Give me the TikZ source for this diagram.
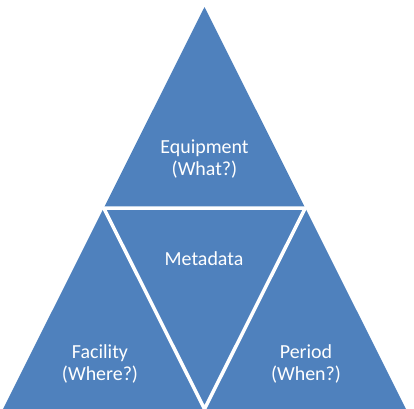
\documentclass[tikz,border=0pt]{standalone}
\usepackage{fontspec}
\setmainfont{Carlito}
\definecolor{triblue}{HTML}{4F81BD}
\begin{document}
\begin{tikzpicture}[x=1bp,y=-1bp,
  lbl/.style={text=white,align=center,font=\fontsize{20}{23}\selectfont,inner sep=0pt}]
\useasboundingbox (0,0) rectangle (414,409);
\coordinate (A) at (204.5,7);
\coordinate (B) at (3,409);
\coordinate (C) at (406,409);
\coordinate (M1) at (103.75,208);
\coordinate (M2) at (305.25,208);
\coordinate (M3) at (204.5,409);
\fill[triblue] (A) -- (B) -- (C) -- cycle;
\draw[white,line width=3.5bp,line join=miter] (M1) -- (M2) -- (M3) -- cycle;
\node[lbl] (equip) at (204.5,159) {Equipment\\(What?)};
\node[lbl] (meta) at (204,259) {Metadata};
\node[lbl] (fac) at (100,364) {Facility\\(Where?)};
\node[lbl] (per) at (306,364) {Period\\(When?)};
\end{tikzpicture}
\end{document}
